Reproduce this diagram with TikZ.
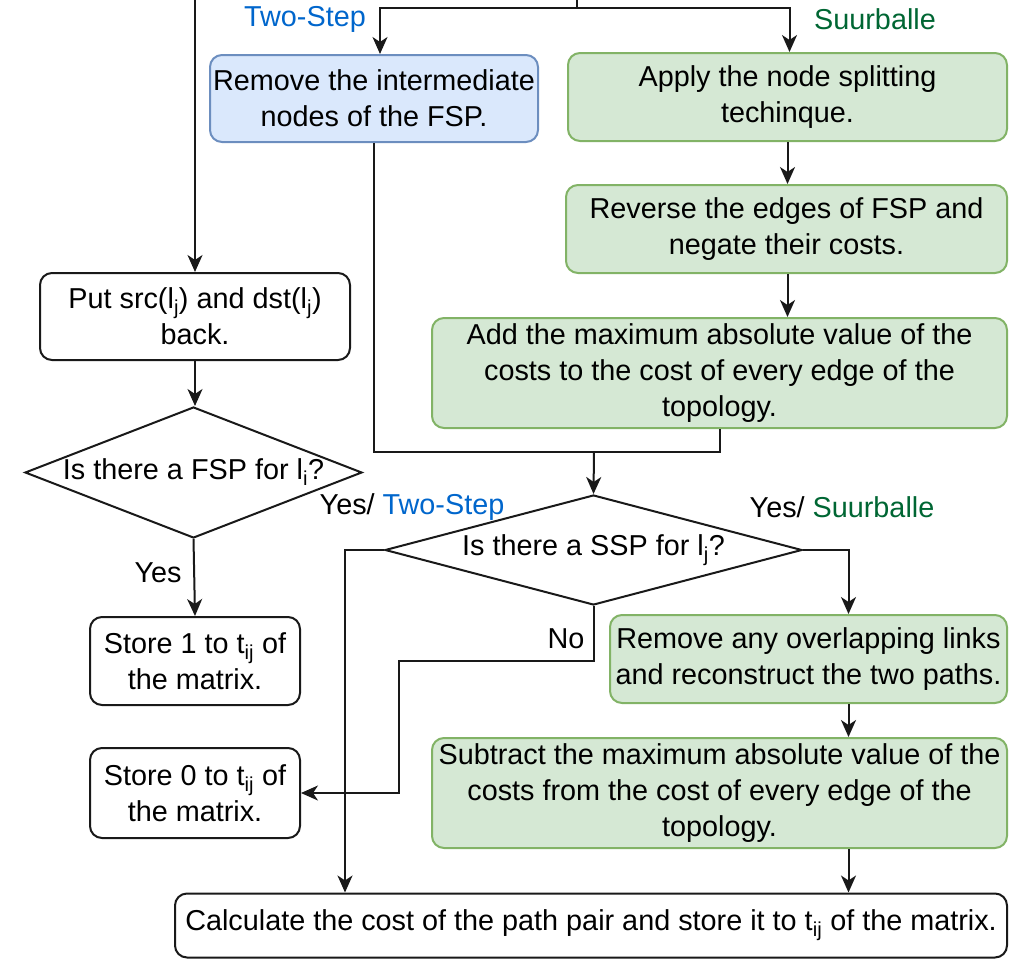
\documentclass[tikz,border=0pt]{standalone}
\usepackage{fontspec}
\setmainfont{Liberation Sans}
\usetikzlibrary{shapes.geometric,arrows.meta}
\definecolor{tsfill}{HTML}{DAE8FC}
\definecolor{tsline}{HTML}{6C8EBF}
\definecolor{sbfill}{HTML}{D5E8D4}
\definecolor{sbline}{HTML}{82B366}
\definecolor{tstext}{HTML}{0066CC}
\definecolor{sbtext}{HTML}{006633}
\begin{document}
\begin{tikzpicture}[x=1pt,y=-1pt,
  every node/.style={font=\fontsize{28.8}{36}\selectfont},
  box/.style={draw, line width=2pt, rounded corners=12pt, align=center, inner sep=0pt},
  plainbox/.style={box, draw=black!90, fill=white},
  tsbox/.style={box, draw=tsline, fill=tsfill},
  sbbox/.style={box, draw=sbline, fill=sbfill},
  decision/.style={diamond, draw=black!90, line width=2pt, inner sep=0pt, align=center},
  flow/.style={line width=2pt, draw=black!90},
  arr/.style={flow, -{Stealth[length=17pt,width=15pt,inset=5pt]}},
  lbl/.style={inner sep=0pt}
]
\useasboundingbox (0,0) rectangle (1015,959);

% process boxes
\node[tsbox, minimum width=328pt, minimum height=87pt] (TS) at (374,98.5)
  {Remove the intermediate\\nodes of the FSP.};
\node[sbbox, minimum width=439pt, minimum height=88pt] (A1) at (787.5,97)
  {Apply the node splitting\\techinque.};
\node[sbbox, minimum width=441pt, minimum height=88pt] (A2) at (786.5,229)
  {Reverse the edges of FSP and\\negate their costs.};
\node[sbbox, minimum width=575pt, minimum height=110pt] (A3) at (719.5,373)
  {Add the maximum absolute value of the\\costs to the cost of every edge of the\\topology.};
\node[plainbox, minimum width=310pt, minimum height=87pt] (P) at (195,316.5)
  {Put src(l\textsubscript{j}) and dst(l\textsubscript{j})\\back.};
\node[decision, minimum width=337pt, minimum height=131pt, aspect=2.57] (D1) at (193.5,472.5)
  {Is there a FSP for l\textsubscript{i}?};
\node[plainbox, minimum width=210pt, minimum height=88pt] (S1) at (195,661)
  {Store 1 to t\textsubscript{ij} of\\the matrix.};
\node[plainbox, minimum width=210pt, minimum height=90pt] (S0) at (195,793)
  {Store 0 to t\textsubscript{ij} of\\the matrix.};
\node[decision, minimum width=417pt, minimum height=110pt, aspect=3.79] (D2) at (593.5,550)
  {Is there a SSP for l\textsubscript{j}?};
\node[sbbox, minimum width=397pt, minimum height=88pt] (R1) at (808.5,659)
  {Remove any overlapping links\\and reconstruct the two paths.};
\node[sbbox, minimum width=575pt, minimum height=110pt] (R2) at (719.5,793)
  {Subtract the maximum absolute value of the\\costs from the cost of every edge of the\\topology.};
\node[plainbox, minimum width=832pt, minimum height=64pt] (C) at (591,925.5)
  {Calculate the cost of the path pair and store it to t\textsubscript{ij} of the matrix.};

% free ends and bends
\coordinate (inL) at (195,0);
\coordinate (inT) at (577,0);
\coordinate (split) at (577,8);
\coordinate (merge) at (594,452);
\coordinate (nobend) at ([xshift=98pt]S0.east);

% labels
\node[lbl, text=tstext] (lTS) at (305,19) {Two-Step};
\node[lbl, text=sbtext] (lSB) at (875,19) {Suurballe};
\node[lbl] (lyes) at (158,573) {Yes};
\node[lbl] (lno) at (566,639) {No};
\node[lbl] (lyts) at (412,507) {Yes/ \textcolor{tstext}{Two-Step}};
\node[lbl] (lysb) at (842,507) {Yes/ \textcolor{sbtext}{Suurballe}};

% connectors
\draw[arr] (inL) -- (P.north);
\draw[flow] (inT) -- (split);
\draw[arr] (split) -| ([xshift=6pt]TS.north);
\draw[arr] (split) -| ([xshift=2pt]A1.north);
\draw[arr] (A1.south) -- (A1.south |- A2.north);
\draw[arr] ([xshift=1pt]A2.south) -- ([xshift=1pt]A2.south |- A3.north);
\draw[flow] (TS.south) |- (merge);
\draw[flow] (A3.south) |- (merge);
\draw[arr] (merge) -- (D2.north);
\draw[arr] (P.south) -- (P.south |- D1.north);
\draw[arr] (D1.south) -- (S1.north);
\draw[arr] (D2.west) -| ([xshift=-246pt]C.north);
\draw[arr] (D2.east) -| ([xshift=40pt]R1.north);
\draw[arr] ([xshift=40pt]R1.south) -- ([xshift=40pt]R1.south |- R2.north);
\draw[arr] ([xshift=129pt]R2.south) -- ([xshift=129pt]R2.south |- C.north);
\draw[arr] (D2.south) -- ++(0,55) -| (nobend) -- (S0.east);
\end{tikzpicture}
\end{document}
